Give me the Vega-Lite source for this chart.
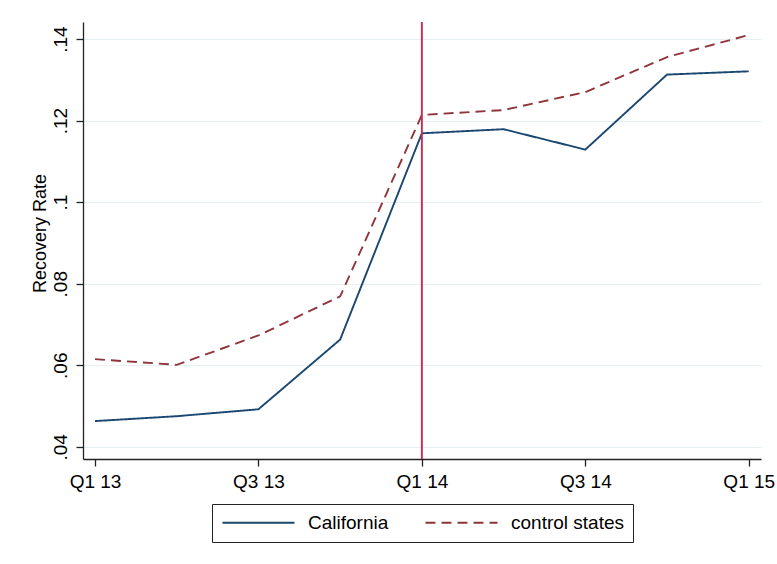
{
  "$schema": "https://vega.github.io/schema/vega-lite/v6.json",
  "autosize": "none",
  "width": 678,
  "height": 437,
  "padding": {"left": 83, "top": 22, "right": 16, "bottom": 105},
  "background": "white",
  "config": {
    "font": "Liberation Sans",
    "view": {"stroke": null},
    "axis": {
      "labelFont": "Liberation Sans",
      "titleFont": "Liberation Sans",
      "labelFontSize": 19,
      "titleFontSize": 18,
      "titleFontWeight": "normal",
      "labelColor": "black",
      "titleColor": "black",
      "domainColor": "#222222",
      "tickColor": "#222222",
      "domainWidth": 1.3,
      "tickWidth": 1.3,
      "tickSize": 7
    }
  },
  "datasets": {
    "rates": [
      {"q": 0, "series": "California", "rate": 0.0463},
      {"q": 1, "series": "California", "rate": 0.0475},
      {"q": 2, "series": "California", "rate": 0.0492},
      {"q": 3, "series": "California", "rate": 0.0663},
      {"q": 4, "series": "California", "rate": 0.1169},
      {"q": 5, "series": "California", "rate": 0.1179},
      {"q": 6, "series": "California", "rate": 0.1129},
      {"q": 7, "series": "California", "rate": 0.1313},
      {"q": 8, "series": "California", "rate": 0.1321},
      {"q": 0, "series": "control states", "rate": 0.0615},
      {"q": 1, "series": "control states", "rate": 0.0601},
      {"q": 2, "series": "control states", "rate": 0.0673},
      {"q": 3, "series": "control states", "rate": 0.0769},
      {"q": 4, "series": "control states", "rate": 0.1214},
      {"q": 5, "series": "control states", "rate": 0.1226},
      {"q": 6, "series": "control states", "rate": 0.1270},
      {"q": 7, "series": "control states", "rate": 0.1356},
      {"q": 8, "series": "control states", "rate": 0.1410}
    ],
    "policy": [{"q": 4}]
  },
  "layer": [
    {
      "data": {"name": "rates"},
      "mark": {"type": "line", "strokeWidth": 1.9},
      "encoding": {
        "x": {
          "field": "q",
          "type": "quantitative",
          "scale": {"domain": [-0.147, 8.15], "nice": false, "zero": false},
          "axis": {
            "title": null,
            "values": [0, 2, 4, 6, 8],
            "grid": false,
            "labelPadding": 6,
            "labelExpr": "['Q1 13','Q2 13','Q3 13','Q4 13','Q1 14','Q2 14','Q3 14','Q4 14','Q1 15'][datum.value]"
          }
        },
        "y": {
          "field": "rate",
          "type": "quantitative",
          "scale": {"domain": [0.037, 0.1442], "nice": false, "zero": false},
          "axis": {
            "title": "Recovery Rate",
            "titleAnchor": "start",
            "titleAngle": -90,
            "titleAlign": "center",
            "titleBaseline": "alphabetic",
            "titleX": -38,
            "titleY": 211,
            "values": [0.04, 0.06, 0.08, 0.1, 0.12, 0.14],
            "grid": true,
            "gridColor": "#e6eff1",
            "gridWidth": 1.2,
            "labelAngle": -90,
            "labelAlign": "center",
            "labelBaseline": "bottom",
            "labelPadding": 6,
            "labelExpr": "replace(format(datum.value, '.2~f'), '0', '')"
          }
        },
        "color": {
          "field": "series",
          "type": "nominal",
          "scale": {"domain": ["California", "control states"], "range": ["#1a476f", "#90353b"]},
          "legend": {
            "title": null,
            "orient": "none",
            "legendX": 129,
            "legendY": 482,
            "direction": "horizontal",
            "columns": 2,
            "strokeColor": "#222222",
            "padding": 9,
            "labelFont": "Liberation Sans",
            "labelFontSize": 19,
            "labelColor": "black",
            "labelOffset": 68,
            "columnPadding": 32,
            "symbolType": "M-1,0H8",
            "symbolSize": 256,
            "symbolStrokeWidth": 1.9
          }
        },
        "strokeDash": {
          "field": "series",
          "type": "nominal",
          "scale": {"domain": ["California", "control states"], "range": [[1, 0], [10, 6]]},
          "legend": null
        }
      }
    },
    {
      "data": {"name": "policy"},
      "mark": {"type": "rule", "color": "#cc2a55", "strokeWidth": 1.9},
      "encoding": {
        "x": {"field": "q", "type": "quantitative"}
      }
    }
  ]
}
